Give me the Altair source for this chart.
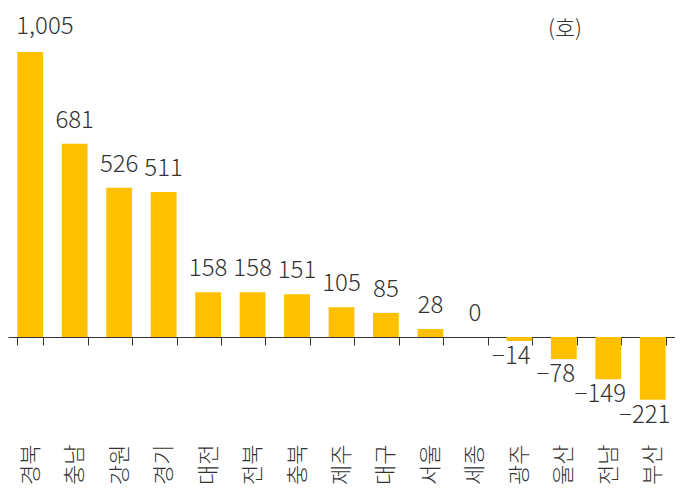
import altair as alt
import pandas as pd

regions = ['경북', '충남', '강원', '경기', '대전', '전북', '충북', '제주',
           '대구', '서울', '세종', '광주', '울산', '전남', '부산']
changes = [1005, 681, 526, 511, 158, 158, 151, 105, 85, 28, 0, -14, -78, -149, -221]

df = pd.DataFrame({'지역': regions, '증감': changes})

FONT = 'Noto Sans CJK KR Light, Noto Sans CJK KR, sans-serif'
GOLD = '#FFC000'
INK = '#333333'

x = alt.X('지역:N', sort=regions, title=None,
          scale=alt.Scale(paddingInner=0.42, paddingOuter=0.21),
          axis=alt.Axis(orient='bottom', offset=-83, labelAngle=-90,
                        labelFont=FONT, labelFontSize=22, labelFontWeight=300,
                        labelColor=INK, labelPadding=99, tickBand='extent',
                        tickSize=8, tickColor=INK, domainColor=INK, grid=False))
y = alt.Y('증감:Q', title=None, axis=None,
          scale=alt.Scale(domain=[-292.7, 1146.0], nice=False, zero=False))

base = alt.Chart(df)

bars = base.mark_bar(color=GOLD).encode(x=x, y=y)

text_style = dict(font=FONT, fontSize=24, fontWeight=300, color=INK)

# the long top label starts at the bar's left edge, the rest sit centred
big_labels = base.transform_filter('datum.증감 >= 1000').mark_text(
    align='left', baseline='alphabetic', dx=-14, dy=-18, **text_style
).encode(x=x, y=y, text=alt.Text('증감:Q', format=',d'))

pos_labels = base.transform_filter('datum.증감 >= 0 && datum.증감 < 1000').mark_text(
    baseline='alphabetic', dy=-16, **text_style
).encode(x=x, y=y, text=alt.Text('증감:Q', format=',d'))

neg_labels = base.transform_filter('datum.증감 < 0').mark_text(
    baseline='top', dy=4, dx=-8, **text_style
).encode(x=x, y=y, text=alt.Text('증감:Q', format=',d'))

unit = alt.Chart(pd.DataFrame({'t': ['(호)']})).mark_text(
    baseline='alphabetic', **dict(text_style, fontSize=22)
).encode(x=alt.value(557), y=alt.value(24), text='t:N')

chart = alt.layer(bars, big_labels, pos_labels, neg_labels, unit).properties(
    width=667,
    height=408,
    autosize=alt.AutoSizeParams(type='none'),
    padding={'left': 0, 'top': 4, 'right': 0, 'bottom': 66},
    background='white'
).configure_view(stroke='transparent', strokeWidth=0)

chart.save("out.html", embed_options={"renderer": "svg", "actions": False})
